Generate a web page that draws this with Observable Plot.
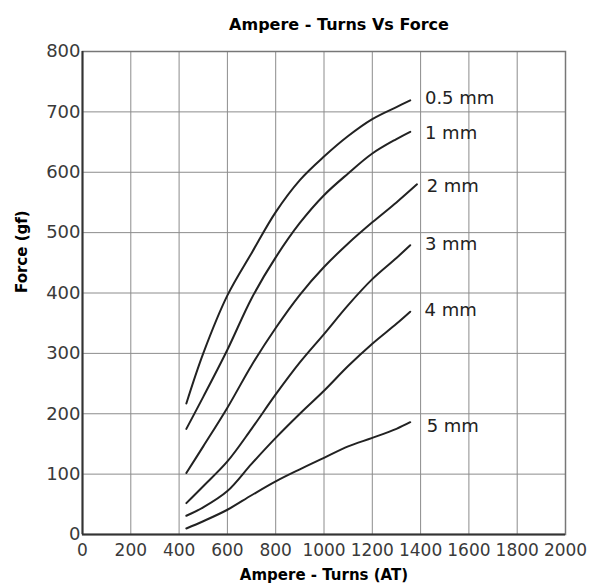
<!DOCTYPE html>
<html>
<head>
<meta charset="utf-8">
<script src="https://cdn.jsdelivr.net/npm/d3@7"></script>
<script src="https://cdn.jsdelivr.net/npm/@observablehq/plot@0.6"></script>
<style>
  html, body { margin: 0; padding: 0; background: #fff; }
</style>
</head>
<body>
<div id="chart"></div>
<script>
// ---- data ----
const seriesNames = ["0.5 mm", "1 mm", "2 mm", "3 mm", "4 mm", "5 mm"];
const atA = [430, 500, 600, 700, 800, 900, 1000, 1100, 1200, 1300, 1357];
const atB = [430, 500, 600, 700, 800, 900, 1000, 1100, 1200, 1300, 1385];
const force05 = [217, 300, 396, 466, 534, 587, 626, 660, 688, 708, 719];
const force1  = [175, 228, 306, 391, 459, 516, 562, 598, 631, 655, 667];
const force2  = [102, 146, 210, 280, 342, 397, 443, 482, 517, 550, 580];
const force3  = [52, 80, 121, 175, 232, 285, 332, 380, 423, 458, 479];
const force4  = [31, 45, 72, 117, 160, 200, 238, 279, 316, 349, 369];
const force5  = [10, 22, 41, 65, 88, 108, 127, 146, 160, 175, 186];
const labelAT = [1418, 1418, 1425, 1418, 1416, 1425];
const labelForce = [723, 665, 577, 480, 372, 179];
const xTicks = [0, 200, 400, 600, 800, 1000, 1200, 1400, 1600, 1800, 2000];
const yTicks = [0, 100, 200, 300, 400, 500, 600, 700, 800];

const titleText = "Ampere - Turns Vs Force";
const xLabel = "Ampere - Turns (AT)";
const yLabel = "Force (gf)";

// ---- build tables ----
const forces = [force05, force1, force2, force3, force4, force5];
const xsFor = [atA, atA, atB, atA, atA, atA];
const rows = [];
seriesNames.forEach((name, i) => {
  forces[i].forEach((f, j) => rows.push({series: name, at: xsFor[i][j], force: f}));
});
const labels = seriesNames.map((name, i) => ({series: name, at: labelAT[i], force: labelForce[i]}));

const chart = Plot.plot({
  width: 589,
  height: 587,
  marginLeft: 82,
  marginRight: 24,
  marginTop: 51,
  marginBottom: 53,
  style: {fontFamily: "'DejaVu Sans', sans-serif", fontSize: "18px", color: "#333", background: "#fff", overflow: "visible"},
  x: {domain: [0, 2000], ticks: xTicks},
  y: {domain: [0, 800], ticks: yTicks},
  marks: [
    Plot.gridX(xTicks, {stroke: "#8c8c8c", strokeOpacity: 1, strokeWidth: 1}),
    Plot.gridY(yTicks, {stroke: "#8c8c8c", strokeOpacity: 1, strokeWidth: 1}),
    Plot.frame({stroke: "#777", strokeWidth: 1.5}),
    Plot.ruleX([0], {stroke: "#333", strokeWidth: 2}),
    Plot.ruleY([0], {stroke: "#333", strokeWidth: 2}),
    Plot.axisX(xTicks, {tickSize: 0, tickPadding: 9, label: null, fill: "#3a3a3a", fontSize: 17, tickFormat: d => String(d)}),
    Plot.axisY(yTicks, {tickSize: 0, tickPadding: 2, label: null, fill: "#3a3a3a", fontSize: 18, tickFormat: d => String(d)}),
    Plot.line(rows, {x: "at", y: "force", z: "series", stroke: "#222", strokeWidth: 2, curve: "catmull-rom"}),
    Plot.text(labels, {x: "at", y: "force", text: "series", textAnchor: "start", fill: "#222", fontSize: 18}),
    Plot.text([titleText], {frameAnchor: "top", dx: 15, dy: -33, fontSize: 16, fontWeight: "bold", fill: "#000"}),
    Plot.text([xLabel], {frameAnchor: "bottom", dy: 45, fontSize: 15, fontWeight: "bold", fill: "#000"}),
    Plot.text([yLabel], {frameAnchor: "left", dx: -60, rotate: -90, fontSize: 15, fontWeight: "bold", fill: "#000"})
  ]
});
document.getElementById("chart").appendChild(chart);
</script>
</body>
</html>
